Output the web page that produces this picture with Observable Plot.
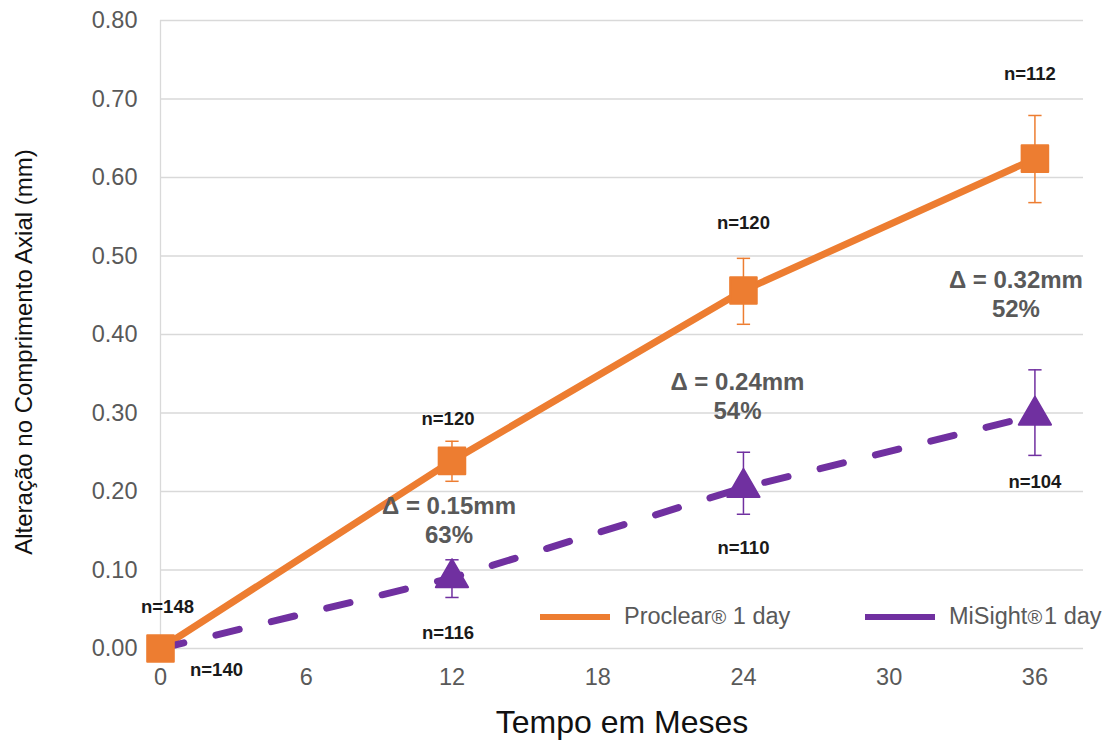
<!DOCTYPE html>
<html><head><meta charset="utf-8">
<script src="https://cdn.jsdelivr.net/npm/d3@7"></script>
<script src="https://cdn.jsdelivr.net/npm/@observablehq/plot@0.6"></script>
<style>
body{margin:0;background:#fff;font-family:Arial,"Liberation Sans",sans-serif}
#wrap{position:relative;width:1106px;height:740px}
.leg{position:absolute;top:603px;display:flex;align-items:center;font-size:23.5px;color:#595959;white-space:nowrap}
.leg span.sw{display:inline-block;width:70px;height:6px;margin-right:14px}
.leg sup{font-size:20px;vertical-align:8px;line-height:0}
#ytitle{position:absolute;left:24px;top:352px;transform:translate(-50%,-50%) rotate(-90deg);font-size:24px;color:#111;white-space:nowrap}
</style>
</head><body><div id="wrap"></div>
<script>
// ---- data ----
const months = [0, 12, 24, 36];
const proclear = [0.000, 0.239, 0.456, 0.624];
const proclearLow = [0.000, 0.213, 0.413, 0.568];
const proclearHigh = [0.000, 0.264, 0.497, 0.679];
const misight = [0.000, 0.090, 0.205, 0.297];
const misightLow = [0.000, 0.065, 0.171, 0.246];
const misightHigh = [0.000, 0.113, 0.250, 0.355];
const proclearN = ["n=148", "n=120", "n=120", "n=112"];
const misightN = ["n=140", "n=116", "n=110", "n=104"];
const deltaMonths = [12, 24, 36];
const deltaMm = ["Δ = 0.15mm", "Δ = 0.24mm", "Δ = 0.32mm"];
const deltaPct = ["63%", "54%", "52%"];
const xTicks = [0, 6, 12, 18, 24, 30, 36];
const yTicks = [0, 0.1, 0.2, 0.3, 0.4, 0.5, 0.6, 0.7, 0.8];
const seriesNames = ["Proclear", "MiSight"];
const xTitle = "Tempo em Meses";
const yTitle = "Alteração no Comprimento Axial (mm)";

// ---- layout (pixel offsets for labels) ----
const proclearNOffset = [[7, -41], [-4, -42], [0, -67], [-5, -85]];
const misightNOffset = [[56, 22], [-4, 55], [0, 61], [0, 67]];
const deltaOffset = [[-3, 0], [-6, 6], [-19, 6]];

const ORANGE = "#ED7D31", PURPLE = "#7030A0";

const rowsP = months.map((m, i) => ({m, v: proclear[i], lo: proclearLow[i], hi: proclearHigh[i], n: proclearN[i]}));
const rowsM = months.map((m, i) => ({m, v: misight[i], lo: misightLow[i], hi: misightHigh[i], n: misightN[i]}));
const deltas = deltaMonths.map((m, i) => {
  const k = months.indexOf(m);
  return {m, mid: (proclear[k] + misight[k]) / 2, t: deltaMm[i] + "\n" + deltaPct[i]};
});

const capSymbol = {draw(ctx, size) { const w = Math.sqrt(size) / 2; ctx.moveTo(-w, 0); ctx.lineTo(w, 0); }};
const errRows = (rows) => rows.filter(d => d.hi !== d.lo);

function errorMarks(rows, color) {
  const r = errRows(rows);
  return [
    Plot.ruleX(r, {x: "m", y1: "lo", y2: "hi", stroke: color, strokeWidth: 1.5}),
    Plot.dot(r, {x: "m", y: "hi", symbol: capSymbol, r: 7.5, stroke: color, strokeWidth: 1.5, fill: "none"}),
    Plot.dot(r, {x: "m", y: "lo", symbol: capSymbol, r: 7.5, stroke: color, strokeWidth: 1.5, fill: "none"})
  ];
}

const nLabelMarks = (rows, offs) => rows.map((d, i) =>
  Plot.text([d], {x: "m", y: "v", text: "n", dx: offs[i][0], dy: offs[i][1], fontSize: 18.5, fontWeight: "bold", fill: "#1a1a1a"}));

const deltaMarks = deltas.map((d, i) =>
  Plot.text([d], {x: "m", y: "mid", text: "t", dx: deltaOffset[i][0], dy: deltaOffset[i][1], fontSize: 24, fontWeight: "bold", fill: "#595959", lineHeight: 1.22}));

const chart = Plot.plot({
  width: 1106, height: 740,
  marginLeft: 160, marginRight: 23, marginTop: 20, marginBottom: 92,
  x: {domain: [0, 38]},
  y: {domain: [0, 0.8]},
  style: {fontFamily: "Arial, 'Liberation Sans', sans-serif", background: "#fff", overflow: "visible"},
  marks: [
    Plot.gridY(yTicks, {stroke: "#d9d9d9", strokeOpacity: 1, strokeWidth: 1.3}),
    Plot.ruleX([0], {stroke: "#d9d9d9", strokeOpacity: 1, strokeWidth: 1.3}),
    Plot.axisY(yTicks, {tickFormat: d3.format(".2f"), tickSize: 0, tickPadding: 23, fontSize: 23.5, fill: "#595959", label: null}),
    Plot.axisX(xTicks, {tickSize: 0, tickPadding: 20, fontSize: 23.5, fill: "#595959", label: null}),
    Plot.text([xTitle], {frameAnchor: "bottom", lineAnchor: "middle", dy: 74, fontSize: 32, fill: "#111"}),
    ...errorMarks(rowsP, ORANGE),
    ...errorMarks(rowsM, PURPLE),
    Plot.line(rowsP, {x: "m", y: "v", stroke: ORANGE, strokeWidth: 7, strokeLinecap: "round"}),
    Plot.line(rowsM, {x: "m", y: "v", stroke: PURPLE, strokeWidth: 7, strokeDasharray: "24,33", strokeLinecap: "round"}),
    Plot.dot(rowsP, {x: "m", y: "v", symbol: "square", r: 15, fill: ORANGE, stroke: ORANGE, strokeWidth: 2, strokeLinejoin: "round"}),
    Plot.dot(rowsM.filter(d => d.m > 0), {x: "m", y: "v", symbol: "triangle", r: 12, fill: PURPLE, stroke: PURPLE, strokeWidth: 2, strokeLinejoin: "round"}),
    ...nLabelMarks(rowsP, proclearNOffset),
    ...nLabelMarks(rowsM, misightNOffset),
    ...deltaMarks
  ]
});

const wrap = document.getElementById("wrap");
wrap.appendChild(chart);
const yt = document.createElement("div");
yt.id = "ytitle";
yt.textContent = yTitle;
wrap.appendChild(yt);
const legItems = [
  {name: seriesNames[0], color: ORANGE, left: 540, gap: "&nbsp;"},
  {name: seriesNames[1], color: PURPLE, left: 865, gap: "&#8202;"}
];
for (const it of legItems) {
  const div = document.createElement("div");
  div.className = "leg";
  div.style.left = it.left + "px";
  div.innerHTML = `<span class="sw" style="background:${it.color}"></span>${it.name}<sup>®</sup>${it.gap}1 day`;
  wrap.appendChild(div);
}
</script>
</body></html>
